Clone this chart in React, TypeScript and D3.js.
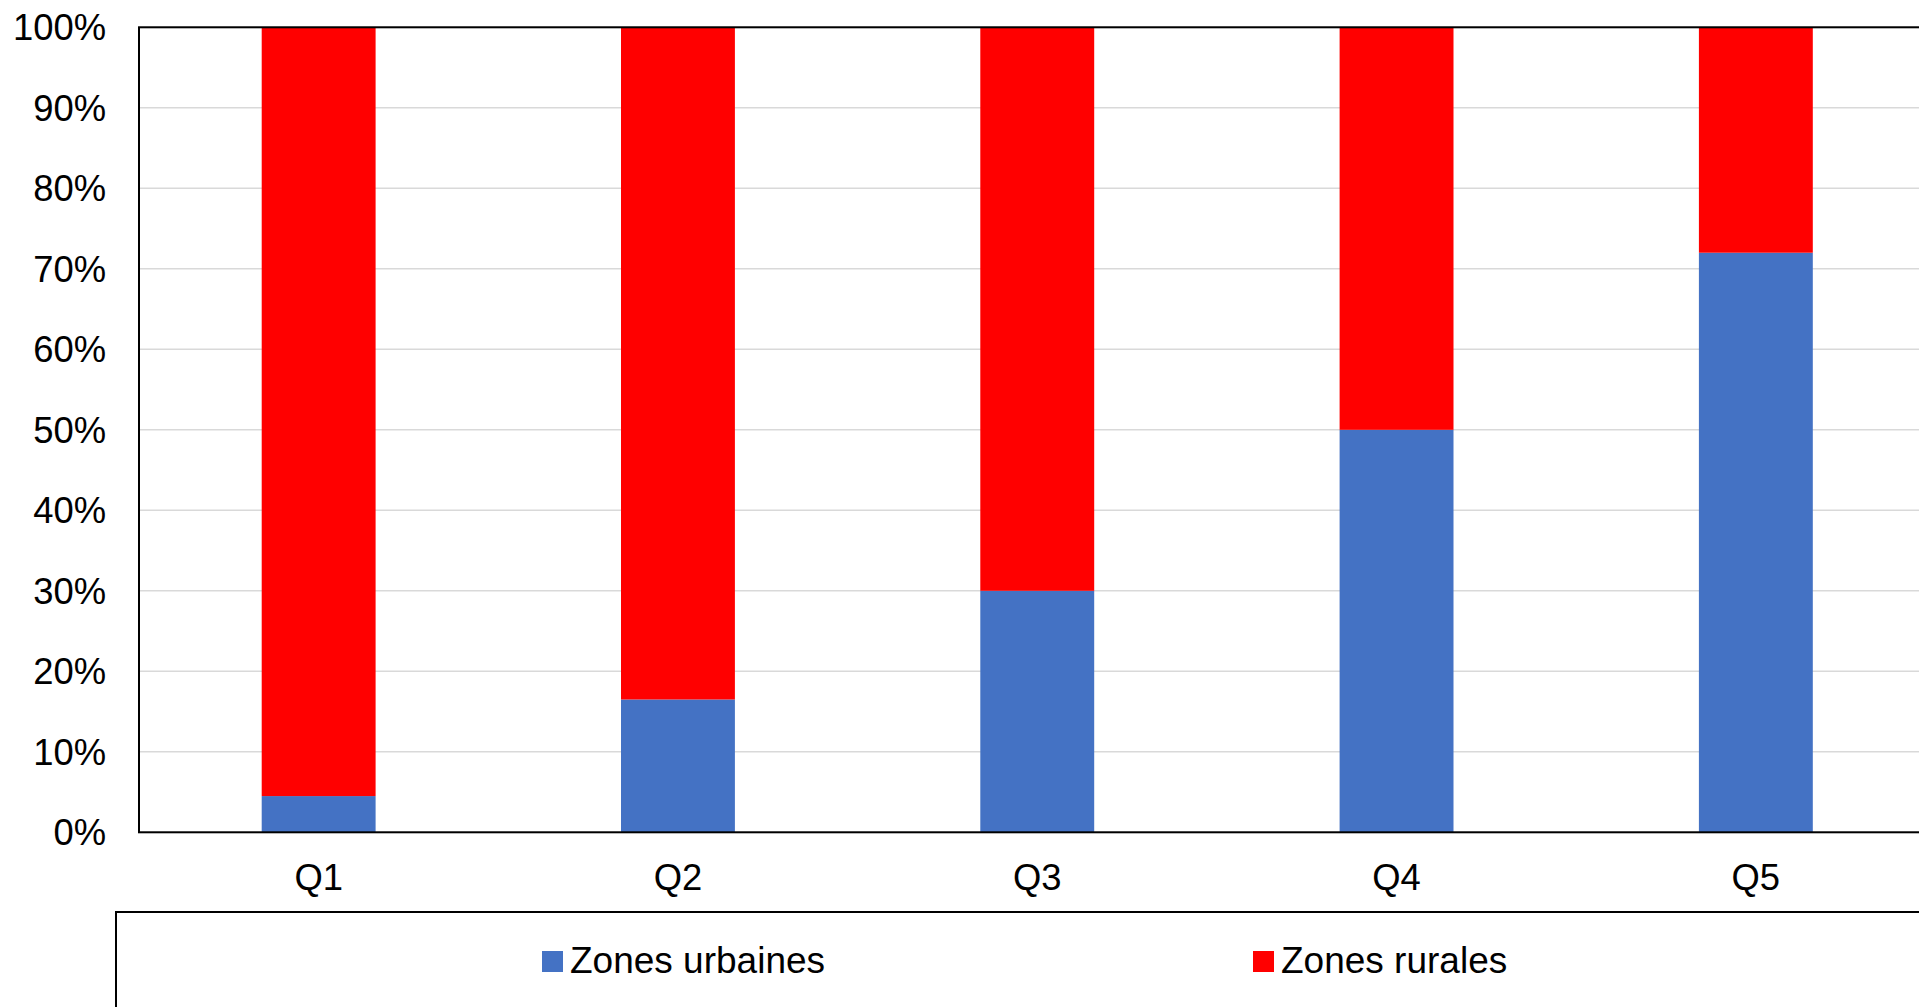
import React from "react";
import * as d3 from "d3";

const categories = ["Q1", "Q2", "Q3", "Q4", "Q5"];
const urbanShare = [0.045, 0.165, 0.3, 0.5, 0.72];
const ruralShare = [0.955, 0.835, 0.7, 0.5, 0.28];
const yTicks = [0, 0.1, 0.2, 0.3, 0.4, 0.5, 0.6, 0.7, 0.8, 0.9, 1];
const seriesNames = ["Zones urbaines", "Zones rurales"];
const seriesColors = ["#4472C4", "#FF0000"];

const W = 1919;
const H = 1007;
const FONT = "'Liberation Sans', Arial, sans-serif";

const App: React.FC = () => {
  const plotLeft = 139;
  const plotRight = 1935.5; // plot runs past the picture's right edge
  const plotTop = 27.3;
  const plotBottom = 832.3;

  const x = d3
    .scaleBand<string>()
    .domain(categories)
    .range([plotLeft, plotRight])
    .paddingInner(0.683)
    .paddingOuter(0.3415);

  const y = d3.scaleLinear().domain([0, 1]).range([plotBottom, plotTop]);
  const pct = d3.format(".0%");

  const stacked = categories.map((c, i) => ({
    cat: c,
    parts: [
      { y0: 0, y1: urbanShare[i], color: seriesColors[0] },
      { y0: urbanShare[i], y1: urbanShare[i] + ruralShare[i], color: seriesColors[1] },
    ],
  }));

  // legend item positions
  const legendX = [542, 1253];

  return (
    <svg
      width={W}
      height={H}
      style={{ position: "absolute", left: 0, top: 0, background: "#fff" }}
      fontFamily={FONT}
    >
      <rect x={0} y={0} width={W} height={H} fill="#fff" />

      {/* gridlines */}
      {yTicks.map((t) => (
        <line
          key={"g" + t}
          x1={plotLeft}
          x2={plotRight}
          y1={y(t)}
          y2={y(t)}
          stroke="#d9d9d9"
          strokeWidth={1.5}
        />
      ))}

      {/* bars */}
      {stacked.map((d) =>
        d.parts.map((p, j) => (
          <rect
            key={d.cat + j}
            x={x(d.cat)}
            y={y(p.y1)}
            width={x.bandwidth()}
            height={y(p.y0) - y(p.y1)}
            fill={p.color}
          />
        ))
      )}

      {/* plot border */}
      <rect
        x={plotLeft}
        y={plotTop}
        width={plotRight - plotLeft}
        height={plotBottom - plotTop}
        fill="none"
        stroke="#000"
        strokeWidth={2}
      />

      {/* y tick labels */}
      {yTicks.map((t) => (
        <text
          key={"t" + t}
          x={106}
          y={y(t)}
          dy="0.36em"
          textAnchor="end"
          fontSize={36.4}
          fill="#000"
        >
          {pct(t)}
        </text>
      ))}

      {/* x labels */}
      {categories.map((c) => (
        <text
          key={"x" + c}
          x={(x(c) as number) + x.bandwidth() / 2}
          y={889.5}
          textAnchor="middle"
          fontSize={36.4}
          fill="#000"
        >
          {c}
        </text>
      ))}

      {/* legend box */}
      <rect x={116} y={912} width={W} height={H} fill="none" stroke="#000" strokeWidth={2} />
      {seriesNames.map((n, i) => (
        <g key={n} transform={`translate(${legendX[i]},0)`}>
          <rect x={0} y={951} width={21} height={21} fill={seriesColors[i]} />
          <text x={28} y={973} fontSize={37} fill="#000">
            {n}
          </text>
        </g>
      ))}
    </svg>
  );
};

export default App;
